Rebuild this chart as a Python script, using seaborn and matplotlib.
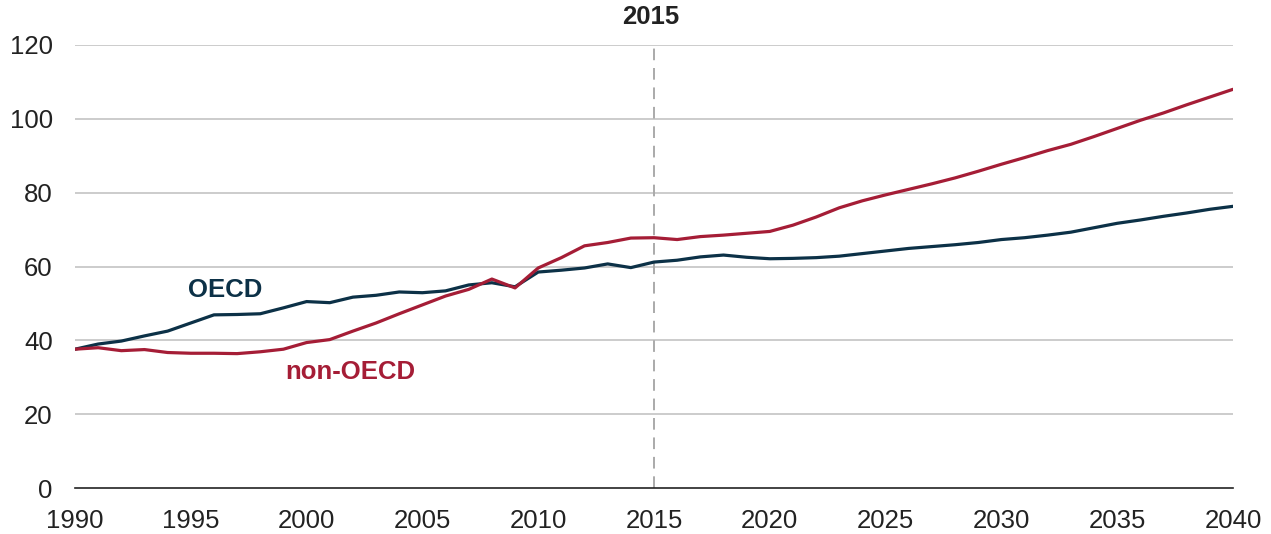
import matplotlib
matplotlib.use("Agg")
import matplotlib.pyplot as plt
import seaborn as sns
import pandas as pd

years = list(range(1990, 2041))
oecd = [37.6, 39.0, 39.8, 41.2, 42.5, 44.7, 46.9, 47.0, 47.2, 48.8,
        50.5, 50.2, 51.7, 52.2, 53.1, 52.9, 53.4, 55.0, 55.6, 54.5,
        58.5, 59.0, 59.6, 60.7, 59.7, 61.2, 61.7, 62.6, 63.1, 62.5,
        62.1, 62.2, 62.4, 62.8, 63.5, 64.2, 64.9, 65.4, 65.9, 66.5,
        67.3, 67.8, 68.5, 69.3, 70.5, 71.7, 72.6, 73.6, 74.5, 75.5,
        76.3]
non_oecd = [37.6, 38.0, 37.2, 37.5, 36.7, 36.5, 36.5, 36.4, 36.9, 37.6,
            39.4, 40.2, 42.5, 44.7, 47.2, 49.6, 52.0, 53.8, 56.6, 54.2,
            59.6, 62.4, 65.6, 66.5, 67.7, 67.8, 67.3, 68.1, 68.5, 69.0,
            69.5, 71.2, 73.4, 75.9, 77.8, 79.4, 80.9, 82.4, 84.0, 85.8,
            87.7, 89.5, 91.4, 93.1, 95.2, 97.4, 99.6, 101.6, 103.8, 105.9,
            108.0]
series_names = ["OECD", "non-OECD"]
colors = {"OECD": "#0c3147", "non-OECD": "#a51d36"}
x_ticks = list(range(1990, 2041, 5))
y_ticks = [0, 20, 40, 60, 80, 100, 120]
marker_year = 2015

df = pd.DataFrame({
    "year": years * 2,
    "value": oecd + non_oecd,
    "region": [series_names[0]] * len(years) + [series_names[1]] * len(years),
})

sns.set_style("white")
plt.rcParams["font.family"] = ["Liberation Sans", "DejaVu Sans"]

fig = plt.figure(figsize=(12.71, 5.34), dpi=100)
ax = fig.add_axes([75 / 1271, 1 - 488 / 534, (1233 - 75) / 1271, (488 - 45) / 534])

for yv in y_ticks[1:]:
    ax.axhline(yv, color="#c4c4c4", lw=1.2, zorder=0)

ax.axvline(marker_year, ymin=0, ymax=1.0, color="#aaaaaa", lw=1.4,
           dashes=(6, 4), zorder=1)

sns.lineplot(data=df, x="year", y="value", hue="region", palette=colors,
             linewidth=2.3, ax=ax, legend=False, zorder=3)

ax.set_xlim(1990, 2040)
ax.set_ylim(0, 120)
ax.set_xticks(x_ticks)
ax.set_yticks(y_ticks)
ax.set_xlabel("")
ax.set_ylabel("")
for s in ["top", "right", "left"]:
    ax.spines[s].set_visible(False)
ax.spines["bottom"].set_color("#222222")
ax.spines["bottom"].set_linewidth(1.2)
ax.tick_params(axis="x", direction="out", length=7, width=1.2, color="#222222",
               labelsize=18.5, pad=8, labelcolor="#222222")
ax.tick_params(axis="y", length=0, labelsize=18.5, pad=16, labelcolor="#222222")

ax.text(1996.5, 53.6, "OECD", color=colors["OECD"], fontsize=18.5,
        fontweight="bold", ha="center", va="center")
ax.text(2001.9, 31.3, "non-OECD", color=colors["non-OECD"], fontsize=18.5,
        fontweight="bold", ha="center", va="center")
ax.text(marker_year - 0.15, 127.5, "2015", color="#222222", fontsize=18.5,
        fontweight="bold", ha="center", va="center")

fig.savefig("out.png", dpi=100)
